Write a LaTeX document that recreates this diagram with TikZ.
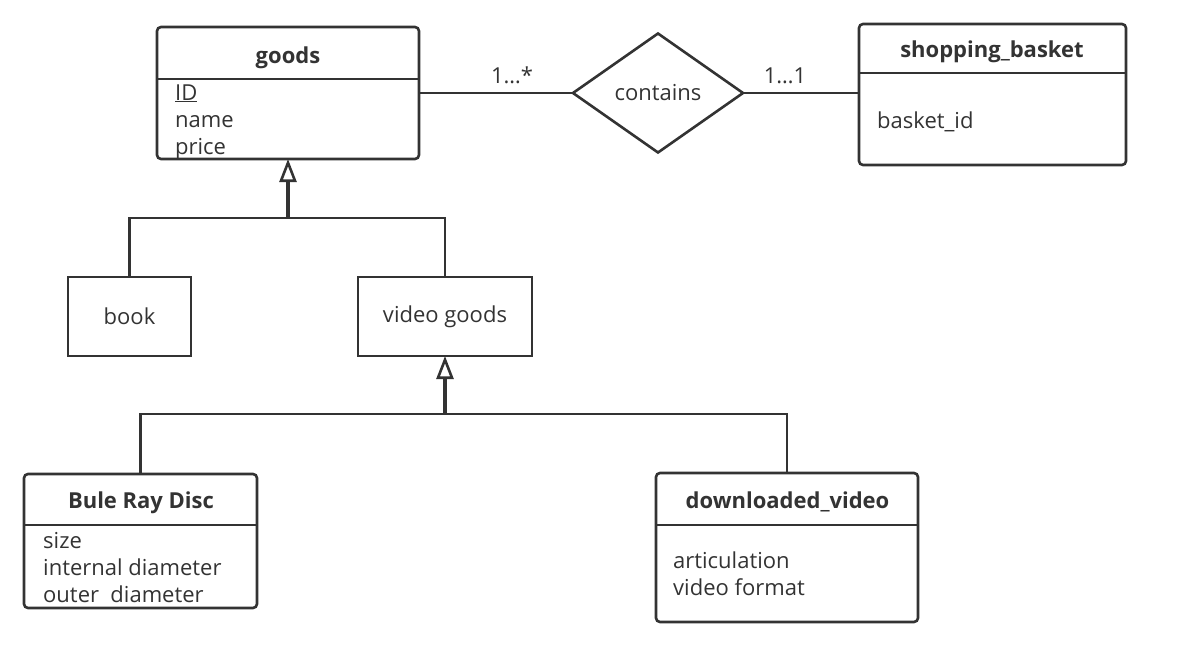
\documentclass[tikz,border=0pt]{standalone}
\usepackage{fontspec}
\setmainfont{Open Sans}
\usetikzlibrary{shapes.geometric,arrows.meta}
\definecolor{ink}{HTML}{333333}
\tikzset{
  cls/.style={draw=ink, line width=2.6pt, rounded corners=4pt, inner sep=0pt, outer sep=0pt},
  box/.style={draw=ink, line width=2.6pt, inner sep=0pt, outer sep=0pt, text=ink, font=\fontsize{22}{26}\selectfont},
  rel/.style={draw=ink, diamond, line width=2.6pt, inner sep=0pt, outer sep=0pt, text=ink, font=\fontsize{22}{26}\selectfont},
  sep/.style={draw=ink, line width=2.6pt},
  title/.style={anchor=base, inner sep=0pt, text=ink, font=\fontsize{22}{26}\selectfont\bfseries},
  attr/.style={anchor=base west, inner sep=0pt, text=ink, font=\fontsize{22}{26}\selectfont},
  mult/.style={anchor=base, inner sep=0pt, text=ink, font=\fontsize{22}{26}\selectfont},
  link/.style={draw=ink, line width=2.5pt},
  inherit/.style={draw=ink, line width=3.8pt, -{Triangle[open, length=23pt, width=17pt, line width=2.6pt]}},
}
\begin{document}
\begin{tikzpicture}[x=1pt, y=-1pt]
				\useasboundingbox (0,0) rectangle (1184,645);
				
				% class boxes
				\node[cls, minimum width=262pt, minimum height=132pt] (goods) at (288,93) {};
				\node[cls, minimum width=267pt, minimum height=141pt] (basket) at (992.5,94.5) {};
				\node[cls, minimum width=233pt, minimum height=134pt] (bluray) at (140.5,541) {};
				\node[cls, minimum width=262pt, minimum height=149pt] (dvideo) at (787,547.5) {};
				
				% separators
				\draw[sep] ([yshift=-52pt]goods.north west) -- ([yshift=-52pt]goods.north east);
				\draw[sep] ([yshift=-49pt]basket.north west) -- ([yshift=-49pt]basket.north east);
				\draw[sep] ([yshift=-51pt]bluray.north west) -- ([yshift=-51pt]bluray.north east);
				\draw[sep] ([yshift=-52pt]dvideo.north west) -- ([yshift=-52pt]dvideo.north east);
				
				% titles
				\node[title] (goodsT) at (288,63) {goods};
				\node[title] (basketT) at (992,57) {shopping\_basket};
				\node[title] (blurayT) at (141,508) {Bule Ray Disc};
				\node[title] (dvideoT) at (787.5,508) {downloaded\_video};
				
				% attributes
				\node[attr] (gID) at (175,100) {\underline{ID}};
				\node[attr] (gName) at (175,127) {name};
				\node[attr] (gPrice) at (175,154) {price};
				\node[attr] (bID) at (877,128) {basket\_id};
				\node[attr] (rSize) at (43,548) {size};
				\node[attr] (rInner) at (43,575) {internal diameter};
				\node[attr] (rOuter) at (43,602) {outer\ \ diameter};
				\node[attr] (vArt) at (673,568) {articulation};
				\node[attr] (vFmt) at (673,595) {video format};
				
				% plain boxes
				\node[box, minimum width=123pt, minimum height=79pt] (book) at (129.5,316.5) {book};
				\node[box, minimum width=174pt, minimum height=79pt] (vgoods) at (445,316.5) {video goods};
				
				% relationship
				\node[rel, minimum width=170pt, minimum height=119pt] (contains) at (658,93) {contains};
				\draw[link] (goods.east) -- (contains.west);
				\draw[link] (contains.east) -- (contains.east -| basket.west);
				\node[mult] (mGoods) at (512,83) {1…*};
				\node[mult] (mBasket) at (785,83) {1…1};
				
				% inheritance
				\coordinate (gfork) at (288,218);
				\coordinate (vfork) at (445,414);
				\draw[inherit] (gfork) -- (goods.south);
				\draw[link] (book.north) |- (gfork) -| (vgoods.north);
				\draw[inherit] (vfork) -- (vgoods.south);
				\draw[link] (bluray.north) |- (vfork) -| (dvideo.north);
				
			\end{tikzpicture}
\end{document}
